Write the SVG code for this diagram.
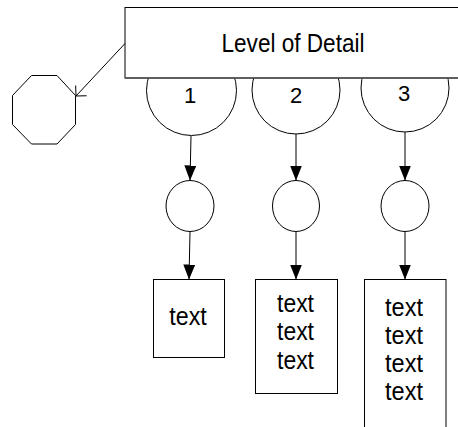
<svg xmlns="http://www.w3.org/2000/svg" width="458" height="427" viewBox="0 0 458 427">
  <style>
    .shape { fill: #fff; stroke: #000; stroke-width: 1; }
    .edge { fill: none; stroke: #000; stroke-width: 1; }
    .lbl { font-family: "Liberation Sans", Arial, sans-serif; fill: #000; text-anchor: middle; }
  </style>
  <defs>
    <marker id="solid" viewBox="0 0 15 12" refX="15" refY="6" markerWidth="15" markerHeight="12" markerUnits="userSpaceOnUse" orient="auto">
      <path d="M0,0 L15,6 L0,12 z" fill="#000"/>
    </marker>
    <marker id="open" viewBox="-10 -10 12 20" refX="0" refY="0" markerWidth="12" markerHeight="20" markerUnits="userSpaceOnUse" orient="auto">
      <path d="M-7.5,-7.5 L0,0 L-7.5,7.5" fill="none" stroke="#000" stroke-width="1"/>
    </marker>
  </defs>

  <!-- level bowls, partly tucked under the header -->
  <g id="level1">
    <circle class="shape" cx="191.5" cy="90.5" r="45"/>
  </g>
  <g id="level2">
    <circle class="shape" cx="296" cy="90" r="44"/>
  </g>
  <g id="level3">
    <circle class="shape" cx="405" cy="88" r="44"/>
  </g>

  <!-- header -->
  <g id="header">
    <rect class="shape" x="125" y="7.5" width="345" height="70.5"/>
    <line x1="125" y1="78" x2="458" y2="78" stroke="#555" stroke-width="1.5"/>
    <text class="lbl" x="293" y="52" font-size="26.5" textLength="143" lengthAdjust="spacingAndGlyphs">Level of Detail</text>
  </g>

  <!-- level numbers -->
  <g id="level-labels" class="lbl" font-size="22">
    <text x="190" y="103">1</text>
    <text x="296" y="103">2</text>
    <text x="404" y="101">3</text>
  </g>

  <!-- octagon -->
  <g id="octagon">
    <polygon class="shape" points="31.5,75.5 57,75.5 75.5,95.5 75.5,124.5 57,144 31.5,144 12.5,124.5 12.5,95.5"/>
  </g>

  <!-- middle circles -->
  <g id="node1">
    <ellipse class="shape" cx="190" cy="206" rx="24" ry="25.5"/>
  </g>
  <g id="node2">
    <ellipse class="shape" cx="296" cy="206" rx="23.5" ry="25.5"/>
  </g>
  <g id="node3">
    <ellipse class="shape" cx="405" cy="206" rx="24" ry="25.5"/>
  </g>

  <!-- text boxes -->
  <g id="box1">
    <rect class="shape" x="153.5" y="279.5" width="71" height="78"/>
    <text class="lbl" x="188" y="325" font-size="26.5" textLength="37.5" lengthAdjust="spacingAndGlyphs">text</text>
  </g>
  <g id="box2">
    <rect class="shape" x="255.5" y="279.5" width="82" height="114"/>
    <g class="lbl" font-size="26.5">
      <text x="295.5" y="311.5" textLength="37" lengthAdjust="spacingAndGlyphs">text</text>
      <text x="295.5" y="340" textLength="37" lengthAdjust="spacingAndGlyphs">text</text>
      <text x="295.5" y="369" textLength="37" lengthAdjust="spacingAndGlyphs">text</text>
    </g>
  </g>
  <g id="box3">
    <rect class="shape" x="364.5" y="279.5" width="81.5" height="160"/>
    <g class="lbl" font-size="26.5">
      <text x="404" y="315.5" textLength="38" lengthAdjust="spacingAndGlyphs">text</text>
      <text x="404" y="343.5" textLength="38" lengthAdjust="spacingAndGlyphs">text</text>
      <text x="404" y="371.5" textLength="38" lengthAdjust="spacingAndGlyphs">text</text>
      <text x="404" y="400" textLength="38" lengthAdjust="spacingAndGlyphs">text</text>
    </g>
  </g>

  <!-- connectors -->
  <g id="connectors" class="edge">
    <line x1="125" y1="43.5" x2="76" y2="96" marker-end="url(#open)"/>
    <line x1="191" y1="136" x2="190" y2="180.5" marker-end="url(#solid)"/>
    <line x1="296" y1="134" x2="296" y2="180.5" marker-end="url(#solid)"/>
    <line x1="405" y1="132" x2="405" y2="180.5" marker-end="url(#solid)"/>
    <line x1="190" y1="231.5" x2="189" y2="279.5" marker-end="url(#solid)"/>
    <line x1="296" y1="231.5" x2="296" y2="279.5" marker-end="url(#solid)"/>
    <line x1="405" y1="231.5" x2="405" y2="279.5" marker-end="url(#solid)"/>
  </g>
</svg>
